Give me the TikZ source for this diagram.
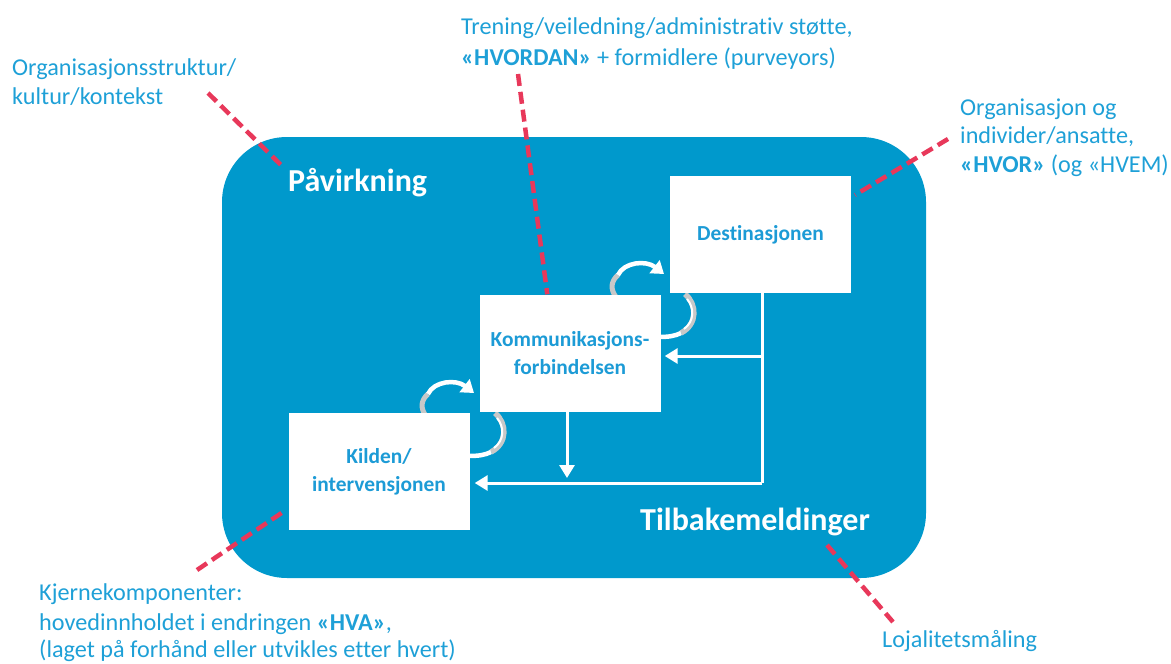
\documentclass[tikz,border=0pt]{standalone}
\usepackage{fontspec}
\setmainfont{Carlito}[Ligatures=NoCommon]
\usetikzlibrary{arrows.meta,calc}
\definecolor{panelblue}{RGB}{0,153,204}
\definecolor{labelblue}{RGB}{30,160,215}
\definecolor{boxtext}{RGB}{28,155,214}
\definecolor{dashred}{RGB}{232,56,90}
\definecolor{ribbongray}{RGB}{200,200,200}

\begin{document}
\begin{tikzpicture}[x=1pt,y=-1pt,
  panel/.style={fill=panelblue, rounded corners=65pt},
  box/.style={fill=white, draw=none, text=boxtext, inner sep=0pt, align=center,
    minimum width=181pt, minimum height=117pt,
    font=\fontsize{21.4}{28}\selectfont\bfseries},
  heading/.style={text=white, anchor=base west, inner sep=0pt,
    font=\fontsize{32}{36}\selectfont\bfseries},
  note/.style={text=labelblue, anchor=base west, inner sep=0pt,
    font=\fontsize{24.2}{30}\selectfont},
  feedback/.style={draw=white, line width=3pt, line join=miter,
    -{Triangle[length=13pt,width=15pt]}},
  leader/.style={draw=dashred, line width=4.5pt, dash pattern=on 12pt off 6pt},
  twist/.pic={
    % lower right part of the ribbon, partly hidden behind the boxes
    \draw[ribbongray, line width=5.5pt] (495,413) .. controls (507,423) and (508,443) .. (491,452);
    \draw[white, line width=2pt] (497,418) .. controls (504,426) and (505,440) .. (494,448);
    \draw[white, line width=4.5pt] (491,452) .. controls (485,455) and (479,456) .. (468,456);
    % left edge seen side-on
    \draw[ribbongray, line width=5pt] (426,416) .. controls (420,408) and (421,400) .. (428,394);
    % upper arc ending in the arrow head
    \draw[white, line width=4.5pt, -{Triangle[length=12pt,width=16pt]}]
      (428,394) .. controls (434,381) and (456,379) .. (474,393);
  }
]
\useasboundingbox (0,0) rectangle (1171,664);

% main panel
\fill[panel] (222,137) rectangle (926,578);

% twisted arrows between the stages (drawn first, the boxes hide parts of them)
\pic at (0,0) {twist};
\pic at (190,-119) {twist};

% the three stages
\node[box] (dest) at (760.5,234.5) {Destinasjonen};
\node[box] (komm) at (570,353) {Kommunikasjons-\\forbindelsen};
\node[box] (kilde) at (379,471.5) {Kilden/\\intervensjonen};

% panel headings
\node[heading] (pav) at (288,191) {Påvirkning};
\node[heading] (tilb) at (640,530) {Tilbakemeldinger};

% feedback arrows
\coordinate (fbtop) at (762,293);
\coordinate (fbmid) at (762,356);
\coordinate (fbbot) at (762,483);
\draw[feedback, -] (fbtop) -- (fbbot);
\draw[feedback, shorten >=4pt] (fbmid) -- (komm.east |- fbmid);
\draw[feedback, shorten >=5pt] (fbbot) -- (kilde.east |- fbbot);
\draw[feedback, shorten >=5pt] (567,411) -- (567,483);

% explanatory notes
\node[note] (n1a) at (12,75) {Organisasjonsstruktur/};
\node[note] (n1b) at (12,104) {kultur/kontekst};
\node[note] (n2a) at (461,34) {Trening/veiledning/administrativ støtte,};
\node[note] (n2b) at (461,65) {\textbf{«HVORDAN»} + formidlere (purveyors)};
\node[note] (n3a) at (960,115) {Organisasjon og};
\node[note] (n3b) at (960,143) {individer/ansatte,};
\node[note] (n3c) at (960,172) {\textbf{«HVOR»} (og «HVEM)};
\node[note] (n4a) at (39,600) {Kjernekomponenter:};
\node[note] (n4b) at (39,630) {hovedinnholdet i endringen \textbf{«HVA»},};
\node[note] (n4c) at (39,657) {(laget på forhånd eller utvikles etter hvert)};
\node[note] (n5) at (882,647) {Lojalitetsmåling};

% dashed leaders
\coordinate (l1a) at (208,93);   \coordinate (l1b) at (282,166);
\coordinate (l2a) at (518,74);   \coordinate (l2b) at ($(komm.north west)+(68,0)$);
\coordinate (l3a) at (948,139);  \coordinate (l3b) at (855,195);
\coordinate (l4a) at (197,570);  \coordinate (l4b) at (283,512);
\coordinate (l5a) at (827,545);  \coordinate (l5b) at (893,622);
\draw[leader] (l1a) -- (l1b);
\draw[leader] (l2a) -- (l2b);
\draw[leader] (l3a) -- (l3b);
\draw[leader] (l4a) -- (l4b);
\draw[leader] (l5a) -- (l5b);
\end{tikzpicture}
\end{document}
